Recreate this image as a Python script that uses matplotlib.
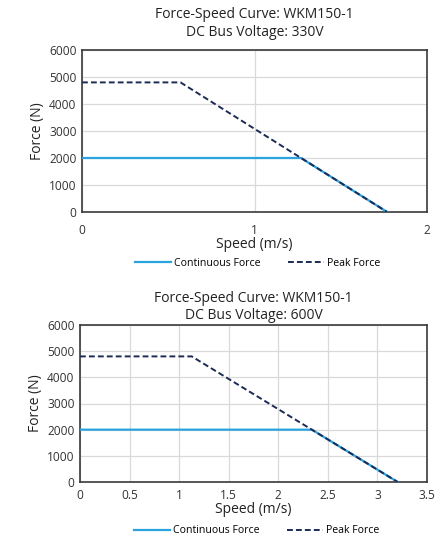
import matplotlib
matplotlib.use('Agg')
import matplotlib.pyplot as plt

plt.rcParams['font.family'] = ['Open Sans', 'DejaVu Sans']

# Chart 1: 330V bus
speed_330_cont = [0, 1.27, 1.769]
force_330_cont = [2000, 2000, 0]
speed_330_peak = [0, 0.571, 1.769]
force_330_peak = [4800, 4800, 0]
xticks_330 = [0, 1, 2]

# Chart 2: 600V bus
speed_600_cont = [0, 2.339, 3.204]
force_600_cont = [2000, 2000, 0]
speed_600_peak = [0, 1.127, 3.204]
force_600_peak = [4800, 4800, 0]
xticks_600 = [0, 0.5, 1, 1.5, 2, 2.5, 3, 3.5]
xtick_labels_600 = ['0', '0.5', '1', '1.5', '2', '2.5', '3', '3.5']

yticks = [0, 1000, 2000, 3000, 4000, 5000, 6000]

cont_color = '#2aa4de'
peak_color = '#1c2b55'

fig = plt.figure(figsize=(4.36, 5.45), dpi=100)


def draw(ax, sc, fc, sp, fp, xt, xtl, xmax, title, leg_y, xpad, tpad):
    ax.plot(sc, fc, color=cont_color, lw=1.6, label='Continuous Force', zorder=3)
    ax.plot(sp, fp, color=peak_color, lw=1.4, ls=(0, (3, 1.6)), label='Peak Force', zorder=4)
    ax.set_xlim(0, xmax)
    ax.set_ylim(0, 6000)
    ax.set_xticks(xt)
    ax.set_xticklabels(xtl)
    ax.set_yticks(yticks)
    ax.grid(True, color='#d9d9d9', lw=0.9)
    ax.set_axisbelow(True)
    ax.tick_params(length=0, labelsize=8.6, colors='#333333', pad=4)
    ax.tick_params(axis='x', pad=xpad)
    for s in ax.spines.values():
        s.set_color('#3a3a3a')
        s.set_linewidth(1.2)
    ax.set_xlabel('Speed (m/s)', fontsize=10, color='#222222', labelpad=0)
    ax.set_ylabel('Force (N)', fontsize=10, color='#222222', labelpad=3)
    ax.set_title(title, fontsize=10, color='#222222', linespacing=1.25, pad=tpad)
    ax.legend(loc='center', bbox_to_anchor=(0.51, leg_y), ncol=2, frameon=False,
              fontsize=7.6, handlelength=3.4, columnspacing=2.6, handletextpad=0.3,
              bbox_transform=ax.transAxes)


ax1 = fig.add_axes([82 / 436, 1 - 212 / 545, 345 / 436, 162 / 545])
draw(ax1, speed_330_cont, force_330_cont, speed_330_peak, force_330_peak,
     xticks_330, [str(t) for t in xticks_330], 2,
     'Force-Speed Curve: WKM150-1\nDC Bus Voltage: 330V', -0.315, 9, 10)

ax2 = fig.add_axes([80 / 436, 1 - 482 / 545, 347 / 436, 157 / 545])
draw(ax2, speed_600_cont, force_600_cont, speed_600_peak, force_600_peak,
     xticks_600, xtick_labels_600, 3.5,
     'Force-Speed Curve: WKM150-1\nDC Bus Voltage: 600V', -0.312, 5, 4)

fig.savefig('out.png', dpi=100)
